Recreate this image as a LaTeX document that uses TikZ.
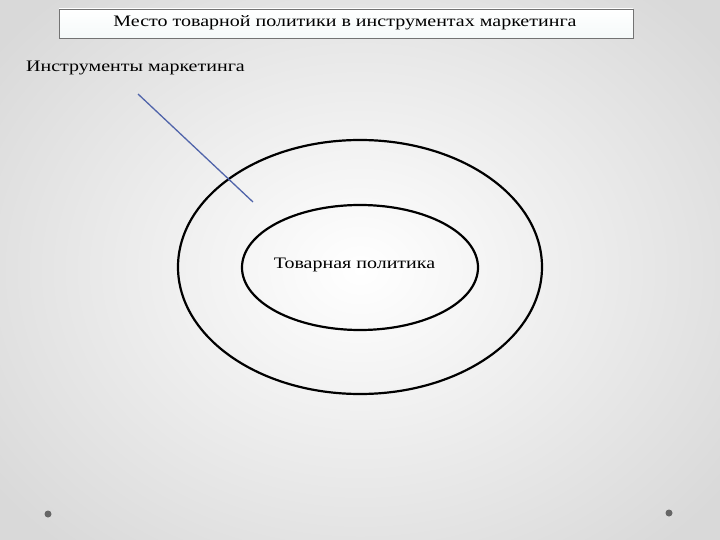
\documentclass[tikz,border=0pt]{standalone}
\usepackage{fontspec}
\setmainfont[FakeStretch=1.25]{Liberation Serif}
\usetikzlibrary{shapes.geometric}
\begin{document}
\begin{tikzpicture}[x=1pt,y=-1pt,
  lbl/.style={inner sep=0pt,font=\fontsize{16}{18}\selectfont,text=black},
  ring/.style={draw=black,line width=2.2pt,ellipse,inner sep=0pt},
  dot/.style={circle,fill=black!60,inner sep=0pt,minimum size=7pt}]
\useasboundingbox (0,0) rectangle (720,540);
\shade[inner color=white,outer color=black!15] (-100,-100) rectangle (820,640);
% title
\node[draw=black!55,line width=0.6pt,minimum width=574pt,minimum height=29pt,inner sep=0pt,
  top color=white,bottom color=black!8!teal!4!white] (title) at (346,23.5) {};
\node[lbl] (tt) at (345,23) {Место товарной политики в инструментах маркетинга};
% ellipses
\node[ring,minimum width=364pt,minimum height=254pt] (outer) at (360,267) {};
\node[ring,minimum width=236pt,minimum height=125pt] (inner) at (360,267.5) {};
\node[lbl] (tp) at (354.5,265) {Товарная политика};
\node[lbl] (im) at (135.5,68) {Инструменты маркетинга};
\coordinate (a1) at (138,94);
\coordinate (a2) at (253,202);
\draw[draw={rgb,255:red,80;green,100;blue,170},line width=1.3pt] (a1) -- (a2);
\node[dot] (d1) at (48,514) {};
\node[dot] (d2) at (669,513) {};
\end{tikzpicture}
\end{document}
